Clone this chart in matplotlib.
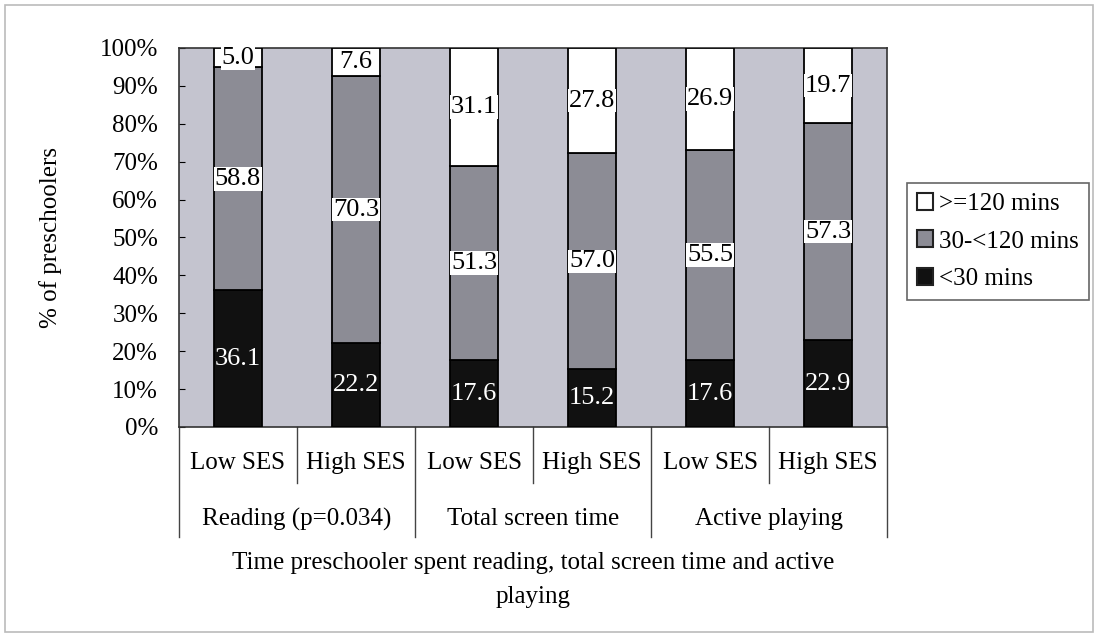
import matplotlib.pyplot as plt
from matplotlib.patches import Patch, Rectangle
import numpy as np

plt.rcParams['font.family'] = ['Liberation Serif', 'DejaVu Serif']

# SES groups and activity categories
ses_labels = ['Low SES', 'High SES', 'Low SES', 'High SES', 'Low SES', 'High SES']
activities = ['Reading (p=0.034)', 'Total screen time', 'Active playing']

# percentage of preschoolers in each time band
under_30 = [36.1, 22.2, 17.6, 15.2, 17.6, 22.9]
mid_30_120 = [58.8, 70.3, 51.3, 57.0, 55.5, 57.3]
over_120 = [5.0, 7.6, 31.1, 27.8, 26.9, 19.7]

series = [
    ('<30 mins', under_30, '#111111'),
    ('30-<120 mins', mid_30_120, '#8c8c95'),
    ('>=120 mins', over_120, '#ffffff'),
]

FS = 18

fig = plt.figure(figsize=(10.98, 6.37), dpi=100)
ax = fig.add_axes([0.163, 0.3297, 0.645, 0.595])
ax.set_facecolor('#c4c4cf')

x = np.arange(len(ses_labels))
width = 0.41
bottom = np.zeros(len(x))
for name, vals, col in series:
    vals = np.array(vals)
    ax.bar(x, vals, width, bottom=bottom, color=col, edgecolor='black',
           linewidth=1.3, label=name, zorder=3)
    for xi, b, v in zip(x, bottom, vals):
        if col == '#111111':
            ax.text(xi, b + v / 2, f'{v:.1f}', ha='center', va='center',
                    color='white', fontsize=19, zorder=4)
        else:
            ax.text(xi, b + v / 2, f'{v:.1f}', ha='center', va='center',
                    color='black', fontsize=19, zorder=4,
                    bbox=dict(facecolor='white', edgecolor='none', pad=0.5))
    bottom += vals

ax.set_xlim(-0.5, len(x) - 0.5)
ax.set_ylim(0, 100)
ax.set_yticks(np.arange(0, 101, 10))
ax.set_yticklabels([f'{t}%' for t in range(0, 101, 10)])
ax.tick_params(axis='y', direction='in', length=4, pad=15, labelsize=FS)
ax.set_xticks([])
for s in ax.spines.values():
    s.set_linewidth(1.2)
    s.set_color('#333333')

# two-row category axis with separators
trans = ax.get_xaxis_transform()
for xi, lab in zip(x, ses_labels):
    ax.text(xi, -0.095, lab, transform=trans, ha='center', va='center', fontsize=FS)
for gi, lab in enumerate(activities):
    ax.text(2 * gi + 0.5, -0.243, lab, transform=trans, ha='center', va='center', fontsize=FS)
for sx in [0.5, 2.5, 4.5]:
    ax.plot([sx, sx], [0, -0.148], transform=trans, color='#444444', lw=1, clip_on=False)
for sx in [-0.5, 1.5, 3.5, 5.5]:
    ax.plot([sx, sx], [0, -0.29], transform=trans, color='#444444', lw=1, clip_on=False)

ax.set_ylabel('% of preschoolers', fontsize=FS)
ax.yaxis.set_label_coords(-0.165, 0.5)
fig.text(0.4855, 0.0895, 'Time preschooler spent reading, total screen time and active\nplaying',
         ha='center', va='center', fontsize=FS, linespacing=1.75)

handles = [Patch(facecolor=c, edgecolor='#222222', linewidth=1.5, label=n)
           for n, _, c in reversed(series)]
leg = fig.legend(handles=handles, loc='upper left', bbox_to_anchor=(0.826, 0.713),
                 bbox_transform=fig.transFigure, borderaxespad=0, fontsize=FS,
                 handlelength=0.65, handleheight=0.65, handletextpad=0.25,
                 labelspacing=0.62, borderpad=0.4, fancybox=False, framealpha=1)
leg.get_frame().set_edgecolor('#666666')
leg.get_frame().set_linewidth(1.2)

fig.patches.append(Rectangle((5 / 1098, 5 / 637), 1088 / 1098, 627 / 637,
                             transform=fig.transFigure, fill=False,
                             edgecolor='#bbbbbb', linewidth=1.2))

fig.savefig('out.png', dpi=100)
